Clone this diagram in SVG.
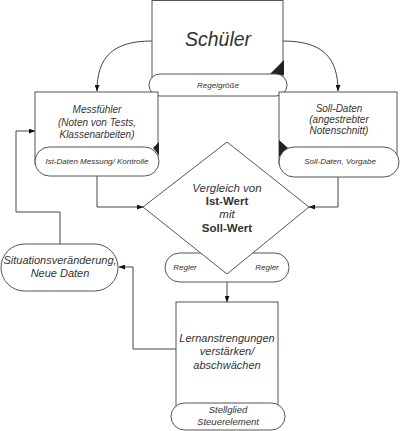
<svg xmlns="http://www.w3.org/2000/svg" width="401" height="431" viewBox="0 0 401 431">
<defs>
<marker id="ah" viewBox="0 0 8 6" refX="7.5" refY="3" markerWidth="7" markerHeight="5" orient="auto" markerUnits="userSpaceOnUse">
<path d="M0,0 L8,3 L0,6 Z" fill="#111"/>
</marker>
<style>
.box{fill:#fff;stroke:#555;stroke-width:1}
.pill{fill:#fff;stroke:#555;stroke-width:1}
.fold{fill:#222;stroke:none}
.con{fill:none;stroke:#444;stroke-width:1;marker-end:url(#ah)}
text{font-family:"Liberation Sans",Arial,sans-serif;fill:#333;text-anchor:middle}
.it{font-style:italic}
.b{font-weight:bold}
</style>
</defs>
<rect width="401" height="431" fill="#fff"/>

<g id="connectors">
<path class="con" d="M152,41 C112,41 97,58 97,91"/>
<path class="con" d="M283,41 C323,41 338,58 338,91"/>
<path class="con" d="M97,176 L97,207 L143,207"/>
<path class="con" d="M338,177 L338,207 L309,207"/>
<path class="con" d="M227,282 L227,302"/>
<path class="con" d="M176,349 L133,349 L133,267 L119,267"/>
<path class="con" d="M60,244 L60,212 L16,212 L16,131 L35,131"/>
</g>

<g id="schueler">
<rect class="box" x="152" y="0.5" width="131" height="86"/>
<polygon class="fold" points="269,75 284,60 284,75"/>
<text class="it" x="218" y="46" font-size="19.5">Schüler</text>
</g>
<g id="regelgroesse">
<rect class="pill" x="149" y="74" width="138" height="22" rx="11"/>
<text class="it" x="218" y="88" font-size="8">Regelgröße</text>
</g>

<g id="messfuehler">
<rect class="box" x="35" y="92" width="123" height="72"/>
<polygon class="fold" points="153,148 159,142 159,155"/>
<text class="it" x="97" y="113" font-size="10">Messfühler</text>
<text class="it" x="97" y="126" font-size="10">(Noten von Tests,</text>
<text class="it" x="97" y="138" font-size="10">Klassenarbeiten)</text>
<rect class="pill" x="35" y="147" width="124" height="29" rx="14.5"/>
<text class="it" x="97" y="164" font-size="8">Ist-Daten Messung/ Kontrolle</text>
</g>

<g id="solldaten">
<rect class="box" x="279" y="92" width="118" height="72"/>
<polygon class="fold" points="279,140 288,148 279,157"/>
<text class="it" x="339" y="112" font-size="10">Soll-Daten</text>
<text class="it" x="339" y="123" font-size="10">(angestrebter</text>
<text class="it" x="339" y="134" font-size="10">Notenschnitt)</text>
<rect class="pill" x="279" y="147" width="120" height="30" rx="15"/>
<text class="it" x="340" y="164" font-size="8">Soll-Daten, Vorgabe</text>
</g>

<g id="regler">
<rect class="pill" x="165" y="253" width="124" height="29" rx="14.5"/>
<text class="it" x="185" y="270" font-size="8">Regler</text>
<text class="it" x="267" y="270" font-size="8">Regler</text>
</g>

<g id="vergleich">
<polygon class="box" points="227,142 309,207 227,274 143,207"/>
<text class="it" x="227" y="192" font-size="11.5">Vergleich von</text>
<text class="b" x="227" y="205" font-size="11.5">Ist-Wert</text>
<text class="it" x="227" y="218" font-size="11.5">mit</text>
<text class="b" x="227" y="232" font-size="11.5">Soll-Wert</text>
</g>

<g id="situation">
<rect class="pill" x="1" y="244" width="117" height="47" rx="23.5"/>
<text class="it" x="60" y="264" font-size="11">Situationsveränderung,</text>
<text class="it" x="60" y="277" font-size="11">Neue Daten</text>
</g>

<g id="lernanstrengungen">
<rect class="box" x="176" y="302" width="102" height="108"/>
<text class="it" x="227" y="342" font-size="11">Lernanstrengungen</text>
<text class="it" x="227" y="355" font-size="11">verstärken/</text>
<text class="it" x="227" y="369" font-size="11">abschwächen</text>
</g>
<g id="stellglied">
<rect class="pill" x="171" y="403" width="114" height="27" rx="13.5"/>
<text class="it" x="228" y="413" font-size="9.5">Stellglied</text>
<text class="it" x="228" y="425" font-size="9.5">Steuerelement</text>
</g>
</svg>
